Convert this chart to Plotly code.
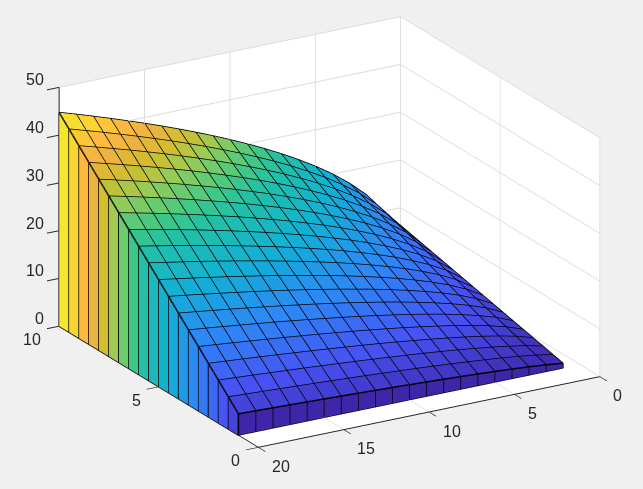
import plotly.graph_objects as go

# short axis, long axis, and heights per row (one row per x value)
x_vals = [1, 1.5, 2, 2.5, 3, 3.5, 4, 4.5, 5, 5.5, 6, 6.5, 7, 7.5, 8, 8.5, 9, 9.5, 10]
y_vals = [1, 2, 3, 4, 5, 6, 7, 8, 9, 10, 11, 12, 13, 14, 15, 16, 17, 18, 19, 20]
z_rows = [
    [1.00, 1.41, 1.73, 2.00, 2.24, 2.45, 2.65, 2.83, 3.00, 3.16, 3.32, 3.46, 3.61, 3.74, 3.87, 4.00, 4.12, 4.24, 4.36, 4.47],
    [1.50, 2.12, 2.60, 3.00, 3.35, 3.67, 3.97, 4.24, 4.50, 4.74, 4.97, 5.20, 5.41, 5.61, 5.81, 6.00, 6.18, 6.36, 6.54, 6.71],
    [2.00, 2.83, 3.46, 4.00, 4.47, 4.90, 5.29, 5.66, 6.00, 6.32, 6.63, 6.93, 7.21, 7.48, 7.75, 8.00, 8.25, 8.49, 8.72, 8.94],
    [2.50, 3.54, 4.33, 5.00, 5.59, 6.12, 6.61, 7.07, 7.50, 7.91, 8.29, 8.66, 9.01, 9.35, 9.68, 10.00, 10.31, 10.61, 10.90, 11.18],
    [3.00, 4.24, 5.20, 6.00, 6.71, 7.35, 7.94, 8.49, 9.00, 9.49, 9.95, 10.39, 10.82, 11.22, 11.62, 12.00, 12.37, 12.73, 13.08, 13.42],
    [3.50, 4.95, 6.06, 7.00, 7.83, 8.57, 9.26, 9.90, 10.50, 11.07, 11.61, 12.12, 12.62, 13.10, 13.56, 14.00, 14.43, 14.85, 15.26, 15.65],
    [4.00, 5.66, 6.93, 8.00, 8.94, 9.80, 10.58, 11.31, 12.00, 12.65, 13.27, 13.86, 14.42, 14.97, 15.49, 16.00, 16.49, 16.97, 17.44, 17.89],
    [4.50, 6.36, 7.79, 9.00, 10.06, 11.02, 11.91, 12.73, 13.50, 14.23, 14.92, 15.59, 16.23, 16.84, 17.43, 18.00, 18.55, 19.09, 19.62, 20.12],
    [5.00, 7.07, 8.66, 10.00, 11.18, 12.25, 13.23, 14.14, 15.00, 15.81, 16.58, 17.32, 18.03, 18.71, 19.36, 20.00, 20.62, 21.21, 21.79, 22.36],
    [5.50, 7.78, 9.53, 11.00, 12.30, 13.47, 14.55, 15.56, 16.50, 17.39, 18.24, 19.05, 19.83, 20.58, 21.30, 22.00, 22.68, 23.33, 23.97, 24.60],
    [6.00, 8.49, 10.39, 12.00, 13.42, 14.70, 15.87, 16.97, 18.00, 18.97, 19.90, 20.78, 21.63, 22.45, 23.24, 24.00, 24.74, 25.46, 26.15, 26.83],
    [6.50, 9.19, 11.26, 13.00, 14.53, 15.92, 17.20, 18.38, 19.50, 20.55, 21.56, 22.52, 23.44, 24.32, 25.17, 26.00, 26.80, 27.58, 28.33, 29.07],
    [7.00, 9.90, 12.12, 14.00, 15.65, 17.15, 18.52, 19.80, 21.00, 22.14, 23.22, 24.25, 25.24, 26.19, 27.11, 28.00, 28.86, 29.70, 30.51, 31.30],
    [7.50, 10.61, 12.99, 15.00, 16.77, 18.37, 19.84, 21.21, 22.50, 23.72, 24.87, 25.98, 27.04, 28.06, 29.05, 30.00, 30.92, 31.82, 32.69, 33.54],
    [8.00, 11.31, 13.86, 16.00, 17.89, 19.60, 21.17, 22.63, 24.00, 25.30, 26.53, 27.71, 28.84, 29.93, 30.98, 32.00, 32.98, 33.94, 34.87, 35.78],
    [8.50, 12.02, 14.72, 17.00, 19.01, 20.82, 22.49, 24.04, 25.50, 26.88, 28.19, 29.44, 30.65, 31.81, 32.92, 34.00, 35.05, 36.06, 37.05, 38.01],
    [9.00, 12.73, 15.59, 18.00, 20.12, 22.05, 23.81, 25.46, 27.00, 28.46, 29.85, 31.18, 32.45, 33.67, 34.86, 36.00, 37.11, 38.18, 39.23, 40.25],
    [9.50, 13.44, 16.45, 19.00, 21.24, 23.27, 25.13, 26.87, 28.50, 30.04, 31.51, 32.91, 34.25, 35.55, 36.79, 38.00, 39.17, 40.31, 41.41, 42.49],
    [10.00, 14.14, 17.32, 20.00, 22.36, 24.49, 26.46, 28.28, 30.00, 31.62, 33.17, 34.64, 36.06, 37.42, 38.73, 40.00, 41.23, 42.43, 43.59, 44.72],
]

x_ticks = [0, 5, 10]
y_ticks = [0, 5, 10, 15, 20]
z_ticks = [0, 10, 20, 30, 40, 50]

parula = [
    [0.0, "rgb(62,38,168)"],
    [1 / 7, "rgb(72,82,244)"],
    [2 / 7, "rgb(46,135,247)"],
    [3 / 7, "rgb(18,177,214)"],
    [0.55, "rgb(34,192,168)"],
    [0.60, "rgb(60,200,138)"],
    [0.65, "rgb(108,204,110)"],
    [0.70, "rgb(160,203,82)"],
    [0.75, "rgb(210,190,46)"],
    [0.80, "rgb(233,180,64)"],
    [0.85, "rgb(255,185,63)"],
    [0.90, "rgb(251,212,50)"],
    [0.95, "rgb(245,230,46)"],
    [1.0, "rgb(249,251,21)"],
]

vx, vy, vz, ti, tj, tk, cell = [], [], [], [], [], [], []


def add_quad(corners, value):
    # Two triangles sharing one colour value.
    n = len(vx)
    for cx, cy, cz in corners:
        vx.append(cx)
        vy.append(cy)
        vz.append(cz)
    ti.extend([n, n])
    tj.extend([n + 1, n + 2])
    tk.extend([n + 2, n + 3])
    cell.extend([value, value])


# Top of the surface, coloured from the lowest corner of each cell.
for i in range(len(x_vals) - 1):
    for j in range(len(y_vals) - 1):
        add_quad([(x_vals[i], y_vals[j], z_rows[i][j]),
                  (x_vals[i + 1], y_vals[j], z_rows[i + 1][j]),
                  (x_vals[i + 1], y_vals[j + 1], z_rows[i + 1][j + 1]),
                  (x_vals[i], y_vals[j + 1], z_rows[i][j + 1])], z_rows[i][j])

# Front wall along x = first value.
for j in range(len(y_vals) - 1):
    add_quad([(x_vals[0], y_vals[j], 0),
              (x_vals[0], y_vals[j + 1], 0),
              (x_vals[0], y_vals[j + 1], z_rows[0][j + 1]),
              (x_vals[0], y_vals[j], z_rows[0][j])], 0)

# Left wall along y = last value.
for i in range(len(x_vals) - 1):
    add_quad([(x_vals[i], y_vals[-1], 0),
              (x_vals[i + 1], y_vals[-1], 0),
              (x_vals[i + 1], y_vals[-1], z_rows[i + 1][-1]),
              (x_vals[i], y_vals[-1], z_rows[i][-1])], z_rows[i][-1])


def parula_colour(value):
    # Colour of one cell, from the same colour stops.
    t = value / 44.72
    for (t0, c0), (t1, c1) in zip(parula, parula[1:]):
        if t <= t1:
            a = [int(p) for p in c0[4:-1].split(",")]
            b = [int(p) for p in c1[4:-1].split(",")]
            f = (t - t0) / (t1 - t0)
            return "rgb(%d,%d,%d)" % tuple(p + (q - p) * f for p, q in zip(a, b))
    return parula[-1][1]


# Black cell edges as one unbroken path, gaps in a 3D line punch holes in the mesh.
lx, ly, lz = [], [], []


def walk(px, py, pz):
    lx.extend(px)
    ly.extend(py)
    lz.extend(pz)


for i, xv in enumerate(x_vals):
    order = list(range(len(y_vals))) if i % 2 == 0 else list(range(len(y_vals) - 1, -1, -1))
    walk([xv] * len(order), [y_vals[j] for j in order], [z_rows[i][j] for j in order])
for n, j in enumerate(range(len(y_vals) - 1, -1, -1)):
    order = list(range(len(x_vals) - 1, -1, -1)) if n % 2 == 0 else list(range(len(x_vals)))
    walk([x_vals[i] for i in order], [y_vals[j]] * len(order), [z_rows[i][j] for i in order])
# back along the last row to the front wall, then up and down each wall post
walk(x_vals[::-1], [y_vals[0]] * len(x_vals), [row[0] for row in z_rows][::-1])
for j, yv in enumerate(y_vals):
    walk([x_vals[0]] * 3, [yv] * 3, [0, z_rows[0][j], 0])
for i, xv in enumerate(x_vals):
    walk([xv] * 3, [y_vals[-1]] * 3, [0, z_rows[i][-1], 0])

fig = go.Figure()
fig.add_trace(go.Mesh3d(
    x=vx, y=vy, z=vz, i=ti, j=tj, k=tk,
    facecolor=[parula_colour(v) for v in cell],
    flatshading=True,
    lighting=dict(ambient=1, diffuse=0, specular=0, roughness=0.5, fresnel=0.5),
    hoverinfo="skip",
))
fig.add_trace(go.Scatter3d(
    x=lx, y=ly, z=lz, mode="lines",
    line=dict(color="#000000", width=3),
    hoverinfo="skip", showlegend=False,
))

axis_font = dict(family="Liberation Sans", size=16, color="#262626")


def axis_style(rng, ticks):
    return dict(
        range=rng, autorange=False, tickmode="array", tickvals=ticks,
        showticklabels=False, title=dict(text=""),
        showgrid=True, gridcolor="#dcdcdc", gridwidth=2, zeroline=False,
        showline=True, linecolor="#262626", linewidth=2,
        ticks="outside", ticklen=14, tickcolor="#262626", tickwidth=2,
        showbackground=True, backgroundcolor="white", showspikes=False,
    )


def tick_label(text, x, y, z, anchor, dx, dy):
    return dict(x=x, y=y, z=z, text=str(text), showarrow=False, font=axis_font,
                xanchor=anchor, yanchor="middle", xshift=dx, yshift=dy)


labels = [tick_label(t, t, y_ticks[-1], 0, "right", -16, -13.5) for t in x_ticks]
labels += [tick_label(t, x_ticks[0], t, 0, "left", 11.5, -19) for t in y_ticks]
labels += [tick_label(t, x_ticks[-1], y_ticks[-1], t, "right", -13.5, 7.5) for t in z_ticks]

fig.update_layout(
    width=643, height=489,
    margin=dict(l=0, r=0, t=0, b=0),
    paper_bgcolor="#f0f0f0",
    showlegend=False,
    scene=dict(
        domain=dict(x=[0.025, 1], y=[0.051, 1]),
        xaxis=axis_style([0, 10], x_ticks),
        yaxis=axis_style([0, 20], y_ticks),
        zaxis=axis_style([0, 50], z_ticks),
        aspectmode="manual",
        aspectratio=dict(x=1.704, y=1.704, z=1.101),
        camera=dict(
            projection=dict(type="orthographic"),
            eye=dict(x=-0.8077, y=0.4712, z=0.3548),
            up=dict(x=0, y=0, z=1),
            center=dict(x=0, y=0, z=0),
        ),
        annotations=labels,
    ),
)

fig.write_html("out.html", config=dict(displayModeBar=False),
               post_script="document.body.style.margin='0';document.body.style.background='#f0f0f0';")
